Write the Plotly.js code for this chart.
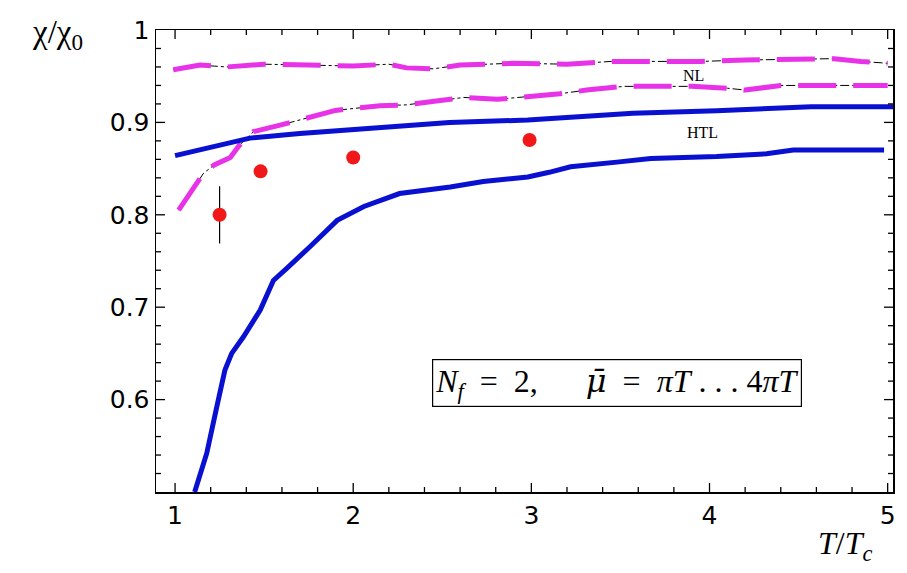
<!DOCTYPE html>
<html><head><meta charset="utf-8">
<script src="https://cdn.plot.ly/plotly-3.0.1.min.js"></script>
<style>html,body{margin:0;padding:0;background:#fff}#plot{width:907px;height:573px}</style>
</head><body><div id="plot"></div>
<script>
// lattice data points
const latT = [1.25, 1.48, 2.0, 2.99];
const latChi = [0.800, 0.847, 0.862, 0.881];
const latErr = [0.031, 0, 0, 0];

// HTL band (blue)
const htlUpT = [1.0, 1.2, 1.42, 1.7, 1.98, 2.3, 2.54, 2.98, 3.3, 3.57, 4.04, 4.57, 5.03];
const htlUpChi = [0.864, 0.873, 0.883, 0.888, 0.892, 0.897, 0.900, 0.9025, 0.907, 0.910, 0.9126, 0.917, 0.917];
const htlLoT = [1.11, 1.178, 1.234, 1.28, 1.318, 1.384, 1.478, 1.552, 1.627, 1.70, 1.76, 1.91, 2.06, 2.26, 2.545, 2.73, 2.98, 3.1, 3.22, 3.48, 3.67, 4.04, 4.32, 4.47, 4.98];
const htlLoChi = [0.50, 0.542, 0.592, 0.632, 0.650, 0.668, 0.697, 0.729, 0.742, 0.756, 0.766, 0.794, 0.809, 0.823, 0.830, 0.836, 0.841, 0.846, 0.852, 0.857, 0.861, 0.863, 0.866, 0.870, 0.870];

// NL band (magenta)
const nlUpT = [0.99, 1.14, 1.29, 1.5, 1.75, 2.0, 2.2, 2.3, 2.45, 2.6, 2.9, 3.2, 3.45, 3.7, 3.95, 4.2, 4.45, 4.7, 4.85, 5.0];
const nlUpChi = [0.957, 0.962, 0.960, 0.963, 0.962, 0.961, 0.963, 0.959, 0.958, 0.962, 0.964, 0.963, 0.966, 0.966, 0.966, 0.9675, 0.968, 0.969, 0.966, 0.964];
const nlLoT = [1.02, 1.08, 1.16, 1.22, 1.31, 1.36, 1.44, 1.59, 1.73, 1.9, 2.15, 2.3, 2.5, 2.62, 2.81, 2.98, 3.16, 3.31, 3.52, 3.7, 3.9, 4.1, 4.2, 4.4, 4.6, 5.0];
const nlLoChi = [0.805, 0.822, 0.845, 0.854, 0.862, 0.875, 0.890, 0.897, 0.904, 0.913, 0.918, 0.919, 0.924, 0.927, 0.925, 0.928, 0.931, 0.935, 0.939, 0.939, 0.939, 0.937, 0.935, 0.940, 0.940, 0.940];

const yTickVals = [0.6, 0.7, 0.8, 0.9, 1.0];
const yTickText = ["0.6", "0.7", "0.8", "0.9", "1"];
const xTickVals = [1, 2, 3, 4, 5];
const X_RANGE = [0.893, 5.03], Y_RANGE = [0.5, 1.0];
const X_MINOR_STEP = 0.2, Y_MINOR_STEP = 0.02;

const BLUE = '#0a10d0', MAG = '#e832e8', RED = '#f01818';

const M = {l: 156, r: 14, t: 30, b: 81}, W = 907, H = 573;
const pw = W - M.l - M.r, ph = H - M.t - M.b;
const dxPerPx = (X_RANGE[1] - X_RANGE[0]) / pw, dyPerPx = (Y_RANGE[1] - Y_RANGE[0]) / ph;

// inward tick marks on all four sides, built from the tick values
const tickX = [], tickY = [];
const isMajor = (arr, v) => arr.some(t => Math.abs(t - v) < 1e-6);
for (let k = Math.ceil(X_RANGE[0] / X_MINOR_STEP - 1e-9); k * X_MINOR_STEP <= X_RANGE[1] + 1e-9; k++) {
  const v = +(k * X_MINOR_STEP).toFixed(4);
  const len = (isMajor(xTickVals, v) ? 9 : 5) * dyPerPx;
  tickX.push(v, v, null, v, v, null);
  tickY.push(Y_RANGE[0], Y_RANGE[0] + len, null, Y_RANGE[1], Y_RANGE[1] - len, null);
}
for (let k = Math.round(Y_RANGE[0] / Y_MINOR_STEP) + 1; k * Y_MINOR_STEP < Y_RANGE[1] - 1e-6; k++) {
  const v = +(k * Y_MINOR_STEP).toFixed(4);
  const len = (isMajor(yTickVals, v) ? 9 : 5) * dxPerPx;
  tickX.push(X_RANGE[0], X_RANGE[0] + len, null, X_RANGE[1], X_RANGE[1] - len, null);
  tickY.push(v, v, null, v, v, null);
}

const traces = [
  {x: nlUpT, y: nlUpChi, mode: 'lines', line: {color: '#000', width: 1, dash: 'dashdot'}},
  {x: nlLoT, y: nlLoChi, mode: 'lines', line: {color: '#000', width: 1, dash: 'dashdot'}},
  {x: nlUpT, y: nlUpChi, mode: 'lines', line: {color: MAG, width: 5, dash: '38px,17px'}},
  {x: nlLoT, y: nlLoChi, mode: 'lines', line: {color: MAG, width: 5, dash: '38px,17px'}},
  {x: htlUpT, y: htlUpChi, mode: 'lines', line: {color: BLUE, width: 5}},
  {x: htlLoT, y: htlLoChi, mode: 'lines', line: {color: BLUE, width: 5}},
  {x: latT, y: latChi, mode: 'markers', marker: {color: RED, size: 14},
   error_y: {type: 'data', array: latErr, visible: true, color: '#000', thickness: 1.2, width: 0}},
  {x: tickX, y: tickY, mode: 'lines', connectgaps: false, line: {color: '#000', width: 1.3}, hoverinfo: 'skip', cliponaxis: false}
];

const tickFont = {family: 'DejaVu Sans', size: 25, color: '#000'};
const layout = {
  width: W, height: H,
  margin: M,
  paper_bgcolor: '#fff', plot_bgcolor: '#fff',
  showlegend: false,
  xaxis: {
    range: X_RANGE, tickmode: 'array', tickvals: xTickVals, ticks: '',
    showline: true, linecolor: '#000', linewidth: 1.5, mirror: true, showgrid: false, zeroline: false,
    tickfont: tickFont
  },
  yaxis: {
    range: Y_RANGE, tickmode: 'array', tickvals: yTickVals, ticktext: yTickText, ticks: '',
    showline: true, linecolor: '#000', linewidth: 1.5, mirror: true, showgrid: false, zeroline: false,
    tickfont: tickFont
  },
  annotations: [
    {xref: 'paper', yref: 'paper', x: -0.133, y: 0.99, xanchor: 'center', yanchor: 'middle', text: 'χ/χ<sub>0</sub>', showarrow: false,
     font: {family: 'Liberation Serif', size: 33, color: '#000'}},
    {xref: 'paper', yref: 'paper', x: 0.935, y: -0.115, xanchor: 'center', yanchor: 'middle', text: '<i>T</i>/<i>T<sub>c</sub></i>', showarrow: false,
     font: {family: 'Liberation Serif', size: 32, color: '#000'}},
    {x: 3.91, y: 0.951, text: 'NL', showarrow: false, font: {family: 'Liberation Serif', size: 16, color: '#000'}},
    {x: 3.96, y: 0.8895, text: 'HTL', showarrow: false, font: {family: 'Liberation Serif', size: 16, color: '#000'}},
    {x: 3.48, y: 0.6176, text: '<i>N<sub>f</sub></i>  =  2,      <span style="font-family:DejaVu Serif"><i>μ̄</i></span>  =  <i>πT</i> . . . 4<i>πT</i>', showarrow: false,
     font: {family: 'Liberation Serif', size: 32, color: '#000'}, bordercolor: '#000', borderwidth: 1.2, borderpad: 2, bgcolor: '#fff'}
  ]
};
Plotly.newPlot('plot', traces, layout, {displayModeBar: false, staticPlot: true});
</script></body></html>
